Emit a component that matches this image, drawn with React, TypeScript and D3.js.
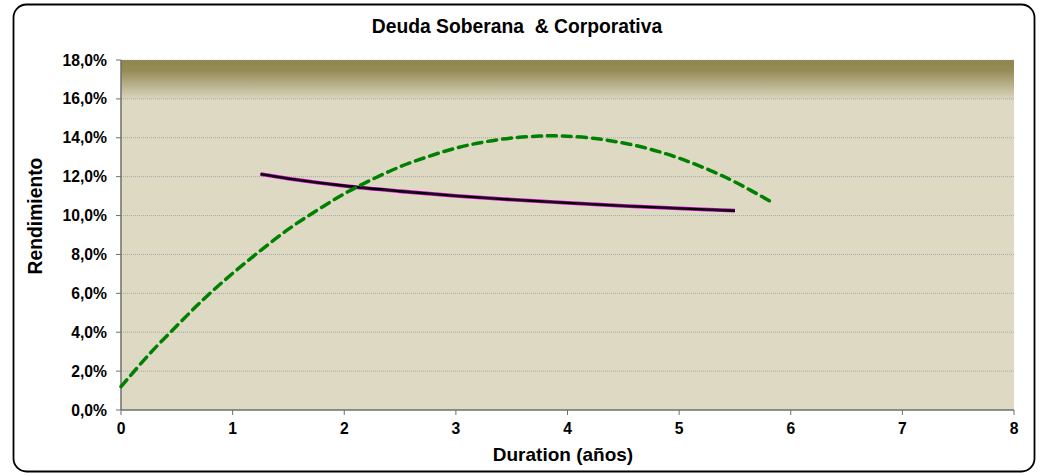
import React from "react";
import * as d3 from "d3";

const title = "Deuda Soberana\u00a0\u00a0& Corporativa";
const xLabel = "Duration (años)";
const yLabel = "Rendimiento";
const xTicks = [0, 1, 2, 3, 4, 5, 6, 7, 8];
const yTicks = [0, 2, 4, 6, 8, 10, 12, 14, 16, 18];

// Corporativa (green dashed)
const greenX = [0, 0.25, 0.5, 0.75, 1, 1.25, 1.5, 1.75, 2, 2.25, 2.5, 2.75, 3, 3.25, 3.5, 3.75, 3.85, 4, 4.25, 4.5, 4.75, 5, 5.25, 5.5, 5.82];
const greenY = [1.2, 2.85, 4.33, 5.75, 7.03, 8.2, 9.3, 10.25, 11.12, 11.86, 12.51, 13.03, 13.47, 13.78, 13.99, 14.09, 14.1, 14.08, 13.96, 13.73, 13.4, 12.95, 12.39, 11.73, 10.72];

// Soberana (black/purple)
const blackX = [1.25, 1.5, 2, 2.5, 3, 3.5, 4, 4.5, 5, 5.5];
const blackY = [12.13, 11.9, 11.53, 11.25, 11.01, 10.82, 10.65, 10.5, 10.37, 10.25];

const W = 1040, H = 475;
const m = { left: 121, right: 1014, top: 60, bottom: 410 };
const FONT = "Arial, 'Liberation Sans', Helvetica, sans-serif";

export default function App() {
  const x = d3.scaleLinear().domain([0, 8]).range([m.left, m.right]);
  const y = d3.scaleLinear().domain([0, 18]).range([m.bottom, m.top]);
  const line = d3.line<[number, number]>().x(d => x(d[0])).y(d => y(d[1])).curve(d3.curveCatmullRom);
  const green = line(greenX.map((v, i) => [v, greenY[i]]) as [number, number][]) || "";
  const black = line(blackX.map((v, i) => [v, blackY[i]]) as [number, number][]) || "";
  const fmt = (v: number) => v.toFixed(1).replace(".", ",") + "%";

  return (
    <svg width={W} height={H} style={{ position: "absolute", left: 0, top: 0, display: "block" }} fontFamily={FONT}>
      <defs>
        <linearGradient id="bg" x1="0" y1="0" x2="0" y2="1">
          <stop offset="0" stopColor="#8f864f" />
          <stop offset="0.03" stopColor="#958b56" />
          <stop offset="0.115" stopColor="#ddd9c3" />
          <stop offset="1" stopColor="#ddd9c3" />
        </linearGradient>
      </defs>
      <rect x={0} y={0} width={W} height={H} fill="#ffffff" />
      <rect x={13.5} y={4.5} width={1021} height={467} rx={13} ry={13} fill="#ffffff" stroke="#000" strokeWidth={1.8} />
      <text x={517} y={33} textAnchor="middle" fontSize={19.3} fontWeight="bold">{title}</text>
      <rect x={m.left} y={m.top} width={m.right - m.left} height={m.bottom - m.top} fill="url(#bg)" />
      {yTicks.filter(t => t > 0).map(t => (
        <line key={t} x1={m.left} x2={m.right} y1={y(t)} y2={y(t)} stroke="#a6a6a6" strokeWidth={1} strokeDasharray="1,1" opacity={t === 18 ? 0.6 : 1} />
      ))}
      {/* axes */}
      <line x1={m.left} x2={m.left} y1={m.top} y2={m.bottom} stroke="#6e6e6e" strokeWidth={1.5} />
      <line x1={m.left} x2={m.right} y1={m.bottom} y2={m.bottom} stroke="#6e6e6e" strokeWidth={1.5} />
      {yTicks.map(t => (
        <g key={t}>
          <line x1={m.left - 5} x2={m.left} y1={y(t)} y2={y(t)} stroke="#6e6e6e" strokeWidth={1} />
          <text x={107} y={y(t) + 5.5} textAnchor="end" fontSize={15.7} fontWeight="bold">{fmt(t)}</text>
        </g>
      ))}
      {xTicks.map(t => (
        <g key={t}>
          <line x1={x(t)} x2={x(t)} y1={m.bottom} y2={m.bottom + 5} stroke="#6e6e6e" strokeWidth={1} />
          <text x={x(t)} y={434} textAnchor="middle" fontSize={15.7} fontWeight="bold">{t}</text>
        </g>
      ))}
      <text x={563} y={461} textAnchor="middle" fontSize={19} fontWeight="bold">{xLabel}</text>
      <text transform={`translate(42,216) rotate(-90)`} textAnchor="middle" fontSize={19.3} fontWeight="bold">{yLabel}</text>
      {/* series */}
      <path d={black} fill="none" stroke="#cc00cc" strokeWidth={3.8} />
      <path d={black} fill="none" stroke="#000000" strokeWidth={2.4} />
      <path d={green} fill="none" stroke="#008000" strokeWidth={3.5} strokeDasharray="9,6" strokeLinecap="round" />
    </svg>
  );
}
